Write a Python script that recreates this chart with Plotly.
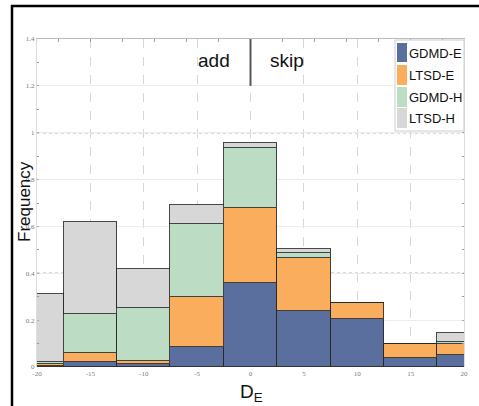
import plotly.graph_objects as go

# Histogram bin centres (bin width 5) for D_E
bin_centers = [-20, -15, -10, -5, 0, 5, 10, 15, 20]

# Stacked frequencies per method
gdmd_e = [0.004, 0.020, 0.013, 0.085, 0.358, 0.239, 0.205, 0.038, 0.050]
ltsd_e = [0.008, 0.040, 0.013, 0.215, 0.320, 0.226, 0.068, 0.060, 0.048]
gdmd_h = [0.008, 0.166, 0.226, 0.310, 0.255, 0.022, 0.000, 0.000, 0.009]
ltsd_h = [0.290, 0.394, 0.166, 0.080, 0.023, 0.016, 0.000, 0.000, 0.038]

series_names = ["GDMD-E", "LTSD-E", "GDMD-H", "LTSD-H"]
series_values = [gdmd_e, ltsd_e, gdmd_h, ltsd_h]
series_colors = ["#5b6f9f", "#fbad5e", "#bddcc4", "#d7d7d7"]

x_ticks = [-20, -15, -10, -5, 0, 5, 10, 15, 20]
y_ticks = [0, 0.2, 0.4, 0.6, 0.8, 1, 1.2, 1.4]

W, H = 479, 406
L, R, T, B = 37, 15, 39, 39
PW, PH = W - L - R, H - T - B


def px(xp):
    return (xp - L) / PW


def py(yp):
    return (H - B - yp) / PH


fig = go.Figure()
for name, vals, col in zip(series_names, series_values, series_colors):
    fig.add_trace(go.Bar(
        x=bin_centers, y=vals, width=5, name=name,
        marker=dict(color=col, line=dict(color="rgba(40,40,40,0.85)", width=1)),
        showlegend=False,
    ))

# helper trace so the top axis is drawn
fig.add_trace(go.Scatter(x=[-20, 20], y=[None, None], xaxis="x2", showlegend=False,
                         hoverinfo="skip"))

tick_font = dict(family="Liberation Serif", size=7, color="#777")
sans = "Liberation Sans, Arial"

fig.update_layout(
    width=W, height=H,
    margin=dict(l=L, r=R, t=T, b=B),
    paper_bgcolor="white", plot_bgcolor="white",
    barmode="stack", bargap=0,
    xaxis=dict(range=[-20, 20], tickvals=x_ticks, ticktext=[str(v) for v in x_ticks],
               tickfont=tick_font, showgrid=True, gridcolor="#d6d6d6",
               griddash="dash", gridwidth=1, zeroline=False, showline=False,
               ticks="", ticklabelstandoff=1),
    xaxis2=dict(range=[-20, 20], overlaying="x", side="top", anchor="y",
                tick0=-18, dtick=3, ticks="inside", ticklen=3, tickcolor="#999",
                showticklabels=False, showgrid=False, zeroline=False,
                showline=True, linecolor="#bbbbbb", linewidth=1),
    yaxis=dict(range=[0, 1.4], tickvals=y_ticks, ticktext=[f"{v:g}" for v in y_ticks],
               tickfont=tick_font, showgrid=True, gridcolor="#ececec", gridwidth=1,
               zeroline=False, showline=True, linecolor="#dddddd", mirror="ticks",
               ticks="inside", ticklen=2, tickcolor="#aaa",
               minor=dict(tick0=0.1, dtick=0.2, ticks="inside", ticklen=2,
                          tickcolor="#999", showgrid=False)),
)

# darker dotted reference lines
for yv in (1.0, 0.4):
    fig.add_shape(type="line", xref="x", yref="y", x0=-20, x1=20, y0=yv, y1=yv,
                  line=dict(color="#555", width=1, dash="dot"), layer="below")

# add / skip divider
fig.add_shape(type="line", xref="x", yref="y", x0=0, x1=0, y0=1.2, y1=1.4,
              line=dict(color="#555", width=2))
fig.add_annotation(x=-3.4, y=1.31, xref="x", yref="y", text="add", showarrow=False,
                   xanchor="center", yanchor="middle",
                   font=dict(family=sans, size=19, color="#111"))
fig.add_annotation(x=3.4, y=1.31, xref="x", yref="y", text="skip", showarrow=False,
                   xanchor="center", yanchor="middle",
                   font=dict(family=sans, size=19, color="#111"))

# legend box
fig.add_shape(type="rect", xref="paper", yref="paper", x0=px(395), x1=px(464),
              y0=py(131), y1=py(40), line=dict(color="#cccccc", width=1),
              fillcolor="white")
rows = [(43, 62, 53), (65, 85, 75), (87, 107, 97), (108, 128, 118)]
for (y_top, y_bot, y_mid), name, col in zip(rows, series_names, series_colors):
    fig.add_shape(type="rect", xref="paper", yref="paper", x0=px(397), x1=px(407),
                  y0=py(y_bot), y1=py(y_top), fillcolor=col, line=dict(width=0))
    fig.add_annotation(x=px(407), y=py(y_mid), xref="paper", yref="paper", text=name,
                       showarrow=False, xanchor="left", yanchor="middle",
                       font=dict(family=sans, size=13, color="#111"))

# axis titles
fig.add_annotation(x=px(24), y=py(202), xref="paper", yref="paper", text="Frequency",
                   textangle=-90, showarrow=False, xanchor="center", yanchor="middle",
                   font=dict(family=sans, size=17, color="#111"))
fig.add_annotation(x=px(251), y=py(393), xref="paper", yref="paper",
                   text="D<sub>E</sub>", showarrow=False, xanchor="center",
                   yanchor="middle", font=dict(family=sans, size=19, color="#111"))

# outer frame (top and left edges)
fig.add_shape(type="line", xref="paper", yref="paper", x0=px(11), x1=px(W + 2),
              y0=py(6), y1=py(6), line=dict(color="black", width=2.5))
fig.add_shape(type="line", xref="paper", yref="paper", x0=px(12), x1=px(12),
              y0=py(5), y1=py(H + 2), line=dict(color="black", width=2.5))

fig.write_html("out.html")
